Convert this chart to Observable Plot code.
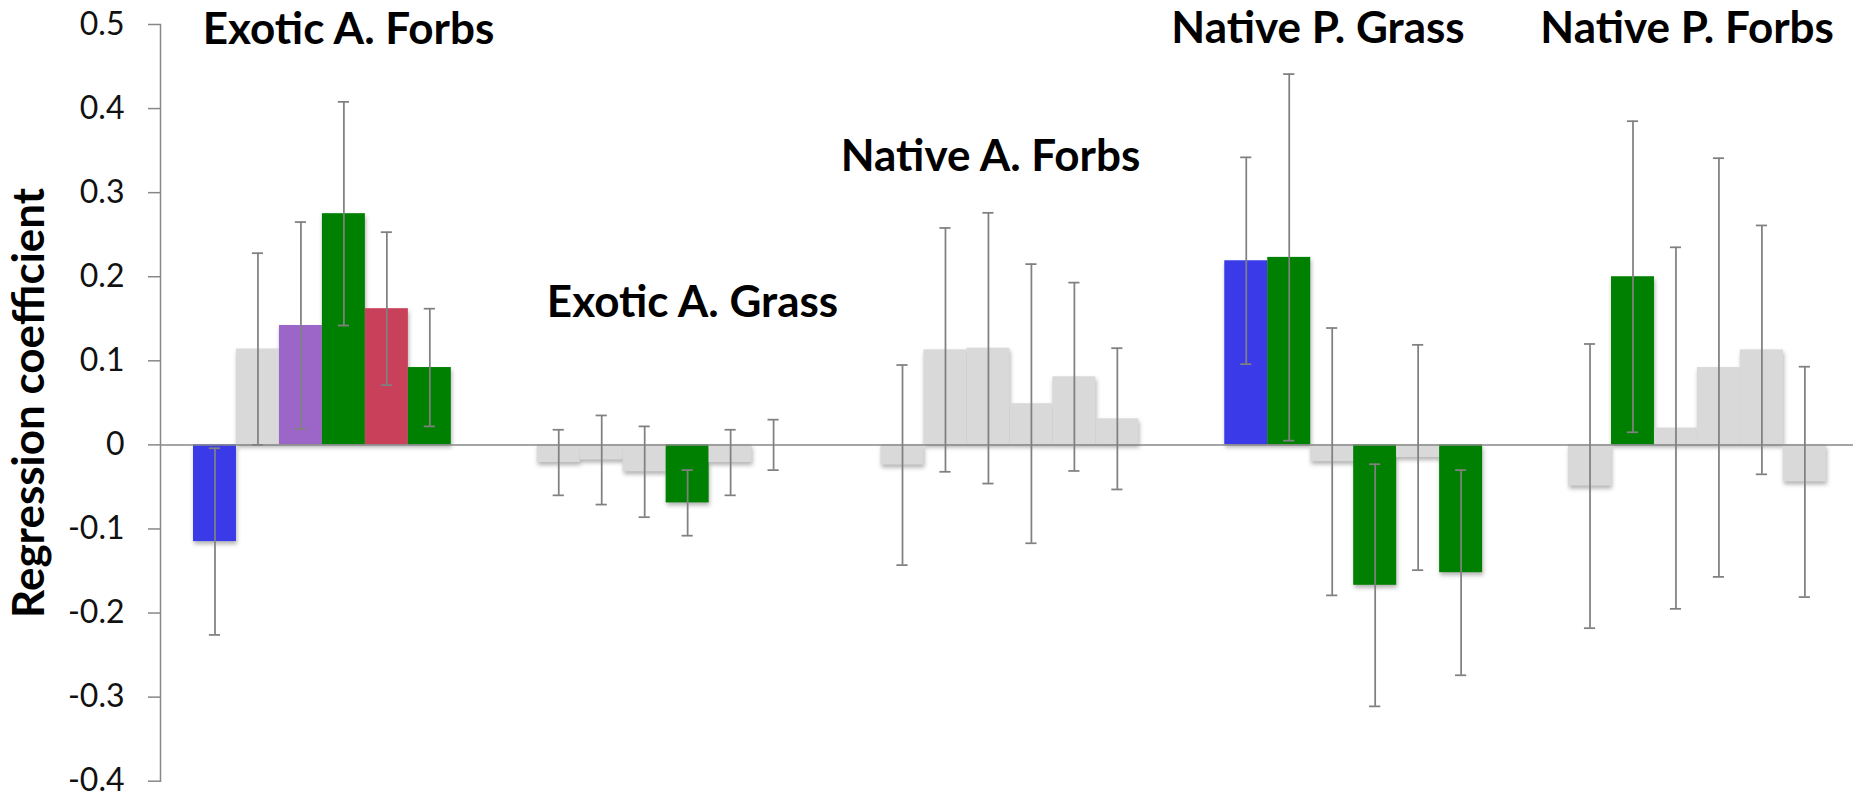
<!DOCTYPE html>
<html>
<head>
<meta charset="utf-8">
<script src="https://cdn.jsdelivr.net/npm/d3@7"></script>
<script src="https://cdn.jsdelivr.net/npm/@observablehq/plot@0.6"></script>
<style>
  html, body { margin: 0; padding: 0; background: #fff; }
  #chart svg { display: block; }
</style>
</head>
<body>
<div id="chart"></div>
<script>
// Functional groups (one cluster of six coefficients each)
const groups = ["Exotic A. Forbs", "Exotic A. Grass", "Native A. Forbs", "Native P. Grass", "Native P. Forbs"];

// Regression coefficients, six predictors per group
const coefExoticAForbs = [-0.115, 0.114, 0.142, 0.275, 0.162, 0.092];
const coefExoticAGrass = [-0.021, -0.018, -0.032, -0.069, -0.021, 0.000];
const coefNativeAForbs = [-0.024, 0.113, 0.115, 0.049, 0.081, 0.031];
const coefNativePGrass = [0.219, 0.223, -0.020, -0.167, -0.015, -0.152];
const coefNativePForbs = [-0.049, 0.200, 0.020, 0.092, 0.113, -0.044];

// Half-widths of the error bars
const errExoticAForbs = [0.111, 0.114, 0.123, 0.133, 0.091, 0.070];
const errExoticAGrass = [0.039, 0.053, 0.054, 0.039, 0.039, 0.030];
const errNativeAForbs = [0.119, 0.145, 0.161, 0.166, 0.112, 0.084];
const errNativePGrass = [0.123, 0.218, 0.159, 0.144, 0.134, 0.122];
const errNativePForbs = [0.169, 0.185, 0.215, 0.249, 0.148, 0.137];

// Bar category (ns = not significant)
const kindExoticAForbs = ["blue", "ns", "purple", "green", "red", "green"];
const kindExoticAGrass = ["ns", "ns", "ns", "green", "ns", "ns"];
const kindNativeAForbs = ["ns", "ns", "ns", "ns", "ns", "ns"];
const kindNativePGrass = ["blue", "green", "ns", "green", "ns", "green"];
const kindNativePForbs = ["ns", "green", "ns", "ns", "ns", "ns"];

// Y axis ticks and their labels
const yTicks = [-0.4, -0.3, -0.2, -0.1, 0, 0.1, 0.2, 0.3, 0.4, 0.5];
const yTickLabels = ["-0.4", "-0.3", "-0.2", "-0.1", "0", "0.1", "0.2", "0.3", "0.4", "0.5"];
const yTitle = "Regression coefficient";

// Group title anchors (in slot units / coefficient units)
const labelSlot = [3.607, 11.613, 18.548, 26.17, 34.76];
const labelCoef = [0.477, 0.152, 0.326, 0.478, 0.478];

const kinds = ["blue", "ns", "purple", "green", "red"];
const kindColors = ["#3a3ae8", "#d9d9d9", "#9b66c8", "#008000", "#c8405a"];

const coefs = [coefExoticAForbs, coefExoticAGrass, coefNativeAForbs, coefNativePGrass, coefNativePForbs];
const errs = [errExoticAForbs, errExoticAGrass, errNativeAForbs, errNativePGrass, errNativePForbs];
const kindsByGroup = [kindExoticAForbs, kindExoticAGrass, kindNativeAForbs, kindNativePGrass, kindNativePForbs];

// Each group uses 6 bar slots followed by a 2-slot gap
const SLOTS_PER_GROUP = 8;
const rows = [];
groups.forEach((g, gi) => {
  coefs[gi].forEach((v, i) => {
    rows.push({
      group: g,
      slot: gi * SLOTS_PER_GROUP + i,
      value: v,
      lo: v - errs[gi][i],
      hi: v + errs[gi][i],
      kind: kindsByGroup[gi][i]
    });
  });
});

const axisGray = "#878787";
const errGray = "#808080";
const capHalf = 0.13;
const tickFmt = d => yTickLabels[yTicks.findIndex(t => Math.abs(t - d) < 1e-9)];

const chart = Plot.plot({
  width: 1853,
  height: 795,
  marginLeft: 160,
  marginRight: 0,
  marginTop: 24,
  marginBottom: 14.3,
  style: { fontFamily: "Lato, sans-serif", fontSize: "32px", background: "#fff", overflow: "visible" },
  x: { type: "linear", domain: [0, 38], range: [193, 193 + 38 * 42.97], axis: null },
  y: { domain: [-0.4, 0.5], label: null, axis: null },
  color: { domain: kinds, range: kindColors },
  marks: [
    Plot.frame({ anchor: "left", stroke: axisGray, strokeWidth: 1.5 }),
    Plot.axisY(yTicks, {
      tickSize: 12, tickPadding: 24, stroke: axisGray, strokeWidth: 1.5,
      fill: "#111", fontSize: 32, fontFamily: "Lato, sans-serif",
      tickFormat: tickFmt, label: null
    }),
    Plot.rectY(rows, {
      x1: "slot", x2: d => d.slot + 1, y1: 0, y2: "value", fill: "kind"
    }),
    Plot.ruleY([0], { stroke: axisGray, strokeWidth: 1.5 }),
    Plot.ruleX(rows, { x: d => d.slot + 0.5, y1: "lo", y2: "hi", stroke: errGray, strokeWidth: 1.75 }),
    Plot.ruleY(rows, { y: "lo", x1: d => d.slot + 0.5 - capHalf, x2: d => d.slot + 0.5 + capHalf, stroke: errGray, strokeWidth: 1.75 }),
    Plot.ruleY(rows, { y: "hi", x1: d => d.slot + 0.5 - capHalf, x2: d => d.slot + 0.5 + capHalf, stroke: errGray, strokeWidth: 1.75 }),
    Plot.text(groups, {
      x: (d, i) => labelSlot[i], y: (d, i) => labelCoef[i], text: d => d,
      fontSize: 44, fontWeight: 700, fontFamily: "Lato, sans-serif",
      lineAnchor: "bottom", fill: "#000"
    }),
    Plot.text([yTitle], {
      frameAnchor: "left", dx: -117, rotate: -90, text: d => d,
      textAnchor: "middle",
      fontSize: 44, fontWeight: 700, fontFamily: "Lato, sans-serif",
      lineAnchor: "bottom", fill: "#000"
    })
  ]
});

// soft drop shadow under the bars
d3.select(chart).selectAll('g[aria-label="rect"]')
  .style("filter", "drop-shadow(1px 3px 2px rgba(0,0,0,0.3))");

document.getElementById("chart").appendChild(chart);
</script>
</body>
</html>
